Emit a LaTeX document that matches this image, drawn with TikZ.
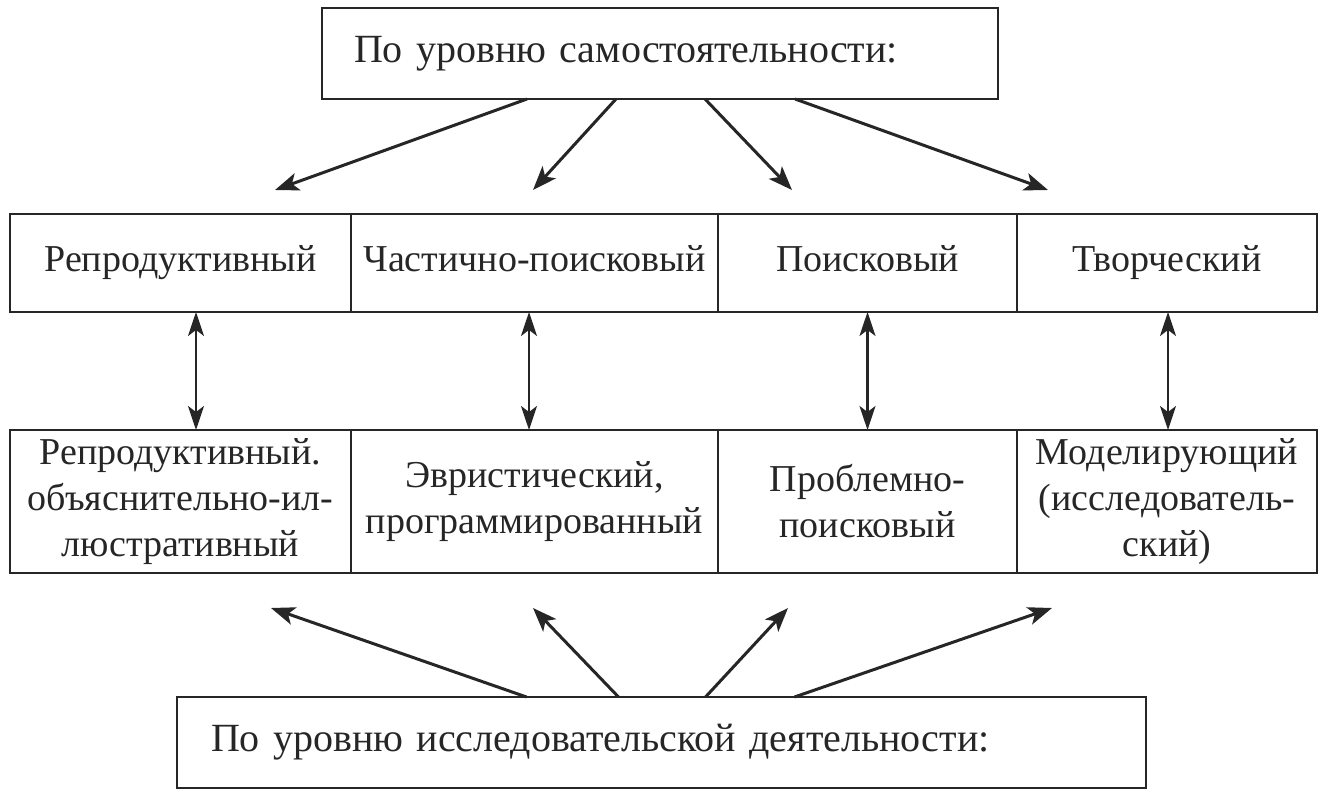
\documentclass[tikz,border=0pt]{standalone}
\usepackage{fontspec}
\setmainfont{Liberation Serif}
\usetikzlibrary{positioning, arrows.meta, calc}

\begin{document}
\begin{tikzpicture}[
    x=0.5pt, y=-0.5pt,
    color=black!85,
    >={Stealth[length=12pt, width=9pt, inset=3pt]},
    % Styles
    head/.style={ % Title boxes
        rectangle,
        draw,
        line width=1.4pt,
        outer sep=0pt,
        inner xsep=16pt,
        inner ysep=0pt,
        minimum height=45.5pt,
        align=left,
        font=\fontsize{20}{24}\selectfont
    },
    cell/.style={ % Any cell of the two rows
        rectangle,
        draw,
        line width=1.4pt,
        outer sep=0pt,
        inner sep=0pt,
        align=center,
        font=\fontsize{19}{23}\selectfont
    },
    level/.style={ % Cells of the upper row
        cell,
        minimum height=49pt,
        text height=13pt,
        text depth=4pt
    },
    method/.style={ % Cells of the lower row
        cell,
        minimum height=71.5pt
    },
    arrow/.style={
        ->,
        line width=1.5pt
    },
    link/.style={
        {Stealth[length=12pt, width=8pt, inset=3pt]}-{Stealth[length=12pt, width=8pt, inset=3pt]},
        line width=1.1pt
    }
]

    \useasboundingbox (0,0) rectangle (1322,796);

    % Title boxes
    \node[head, text width=306pt, anchor=north west] (self) at (322,8) {По уровню самостоятельности:};
    \node[head, inner xsep=17pt, text width=450.5pt, anchor=north west] (research) at (177,697) {По уровню исследовательской деятельности:};

    % Upper row
    \node[level, minimum width=170.5pt, anchor=west] (lv1) at (10,263) {Репродуктивный};
    \node[level, minimum width=183.5pt, right=0pt of lv1] (lv2) {Частично-поисковый};
    \node[level, minimum width=149.5pt, right=0pt of lv2] (lv3) {Поисковый};
    \node[level, minimum width=150pt, right=0pt of lv3] (lv4) {Творческий};

    % Lower row
    \node[method, minimum width=170.5pt, anchor=north west] (md1) at (10,430) {Репродуктивный.\\объяснительно-ил-\\люстративный};
    \node[method, minimum width=183.5pt, right=0pt of md1] (md2) {Эвристический,\\программированный};
    \node[method, minimum width=149.5pt, right=0pt of md2] (md3) {Проблемно-\\поисковый};
    \node[method, minimum width=150pt, right=0pt of md3] (md4) {Моделирующий\\(исследователь-\\ский)};

    % Links between the rows
    \foreach \X/\dx in {1/15.5, 2/-5.5, 3/0, 4/1} {
        \draw[link] ($(lv\X.south)+(\dx,0)$) -- ($(md\X.north)+(\dx,0)$);
    }

    % Arrows from the upper title
    \foreach \X/\dx/\tx in {1/-133/275, 2/-44/533, 3/45/792, 4/135/1048} {
        \coordinate (up\X) at (\tx,190);
        \draw[arrow] ($(self.south)+(\dx,0)$) -- (up\X);
    }

    % Arrows from the lower title
    \foreach \X/\dx/\tx in {1/-135/271, 2/-43/533, 3/44/788, 4/133/1052} {
        \coordinate (dn\X) at (\tx,608);
        \draw[arrow] ($(research.north)+(\dx,0)$) -- (dn\X);
    }

\end{tikzpicture}
\end{document}
